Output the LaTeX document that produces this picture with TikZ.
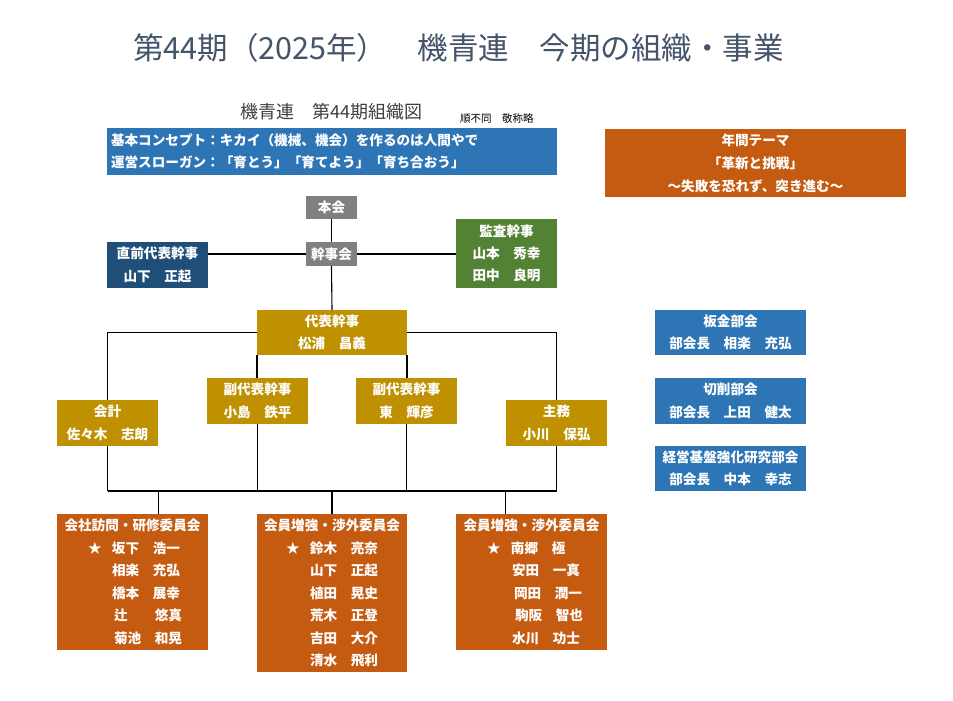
\documentclass[tikz,border=0pt]{standalone}
\usepackage{fontspec}
\newfontfamily\jp{Noto Sans CJK JP}
\usetikzlibrary{calc}
\definecolor{cblue}{HTML}{2E75B6}
\definecolor{corange}{HTML}{C55A11}
\definecolor{cgold}{HTML}{BF9000}
\definecolor{cgreen}{HTML}{548235}
\definecolor{cnavy}{HTML}{1F4E79}
\definecolor{cgrey}{HTML}{808080}
\definecolor{ctitle}{HTML}{44546A}
\definecolor{csub}{HTML}{404040}
\newcommand\mline[4]{\makebox[#1][l]{\hspace*{#2}\makebox[24pt][l]{#3}#4}}
\begin{document}
\begin{tikzpicture}[x=1pt,y=-1pt,
  box/.style={anchor=north west, inner sep=0pt, outer sep=0pt, text=white,
    font=\jp\bfseries\fontsize{13.6}{22.5}\selectfont, align=center},
  wire/.style={line width=1.1pt, black}]
\useasboundingbox[fill=white] (0,0) rectangle (953,701);

% titles
\node[anchor=west, inner sep=0pt, text=ctitle, font=\jp\fontsize{30.5}{30.5}\selectfont] (title) at (133,48) {第44期（2025年）　機青連　今期の組織・事業};
\node[anchor=west, inner sep=0pt, text=csub, font=\jp\fontsize{18}{18}\selectfont] (sub) at (240,112) {機青連　第44期組織図};
\node[anchor=west, inner sep=0pt, text=black, font=\jp\fontsize{10.5}{10.5}\selectfont] (note) at (460,118) {順不同　敬称略};

% top boxes
\node[box, fill=cblue, minimum width=450pt, minimum height=47pt, text width=442pt, inner xsep=4pt, align=left] (concept) at (107,128)
  {基本コンセプト：キカイ（機械、機会）を作るのは人間やで\\運営スローガン：「育とう」「育てよう」「育ち合おう」};
\node[box, fill=corange, minimum width=301pt, minimum height=68pt, font=\jp\bfseries\fontsize{13.6}{23}\selectfont] (theme) at (605,129)
  {年間テーマ\\「革新と挑戦」\\～失敗を恐れず、突き進む～};

% hierarchy
\node[box, fill=cgrey, minimum width=51pt, minimum height=23pt] (honkai) at (306,196) {本会};
\node[box, fill=cgrey, minimum width=51pt, minimum height=24pt] (kanjikai) at (306,242) {幹事会};
\node[box, fill=cnavy, minimum width=101pt, minimum height=46pt] (zenkai) at (107,242) {直前代表幹事\\山下　正起};
\node[box, fill=cgreen, minimum width=101pt, minimum height=69pt, font=\jp\bfseries\fontsize{13.6}{22}\selectfont] (kansa) at (456,219) {監査幹事\\山本　秀幸\\田中　良明};
\node[box, fill=cgold, minimum width=150pt, minimum height=45pt] (daihyo) at (257,310) {代表幹事\\松浦　昌義};
\node[box, fill=cgold, minimum width=101pt, minimum height=46pt] (fuku1) at (207,378) {副代表幹事\\小島　鉄平};
\node[box, fill=cgold, minimum width=101pt, minimum height=46pt] (fuku2) at (356,378) {副代表幹事\\東　輝彦};
\node[box, fill=cgold, minimum width=101pt, minimum height=46pt] (kaikei) at (57,400) {会計\\佐々木　志朗};
\node[box, fill=cgold, minimum width=101pt, minimum height=46pt] (shumu) at (506,400) {主務\\小川　保弘};

% committees
\node[box, fill=corange, minimum width=151pt, minimum height=136pt, text width=151pt] (com1) at (57,514)
  {会社訪問・研修委員会\\
   \mline{151pt}{31pt}{★}{坂下　浩一}\\
   \mline{151pt}{31pt}{}{相楽　充弘}\\
   \mline{151pt}{31pt}{}{橋本　展幸}\\
   \mline{151pt}{33pt}{}{辻　　悠真}\\
   \mline{151pt}{33pt}{}{菊池　和晃}};
\node[box, fill=corange, minimum width=150pt, minimum height=158pt, text width=150pt] (com2) at (257,514)
  {会員増強・渉外委員会\\
   \mline{150pt}{29pt}{★}{鈴木　亮奈}\\
   \mline{150pt}{29pt}{}{山下　正起}\\
   \mline{150pt}{29pt}{}{植田　晃史}\\
   \mline{150pt}{29pt}{}{荒木　正登}\\
   \mline{150pt}{29pt}{}{吉田　大介}\\
   \mline{150pt}{29pt}{}{清水　飛利}};
\node[box, fill=corange, minimum width=151pt, minimum height=136pt, text width=151pt] (com3) at (456,514)
  {会員増強・渉外委員会\\
   \mline{151pt}{31pt}{★}{南郷　極}\\
   \mline{151pt}{32pt}{}{安田　一真}\\
   \mline{151pt}{34pt}{}{岡田　潤一}\\
   \mline{151pt}{35pt}{}{駒阪　智也}\\
   \mline{151pt}{32pt}{}{水川　功士}};

% sections
\node[box, fill=cblue, minimum width=151pt, minimum height=45pt] (bankin) at (655,310) {板金部会\\部会長　相楽　充弘};
\node[box, fill=cblue, minimum width=151pt, minimum height=46pt] (sessaku) at (655,378) {切削部会\\部会長　上田　健太};
\node[box, fill=cblue, minimum width=151pt, minimum height=45pt] (keiei) at (655,446) {経営基盤強化研究部会\\部会長　中本　幸志};

% connectors
\coordinate (bus) at (0,491);
\draw[wire] (honkai) -- (kanjikai);
\draw[wire] (kanjikai.west) -- (kanjikai.west -| zenkai.east);
\draw[wire] (kanjikai.east) -- (kanjikai.east -| kansa.west);
\draw[wire] (kanjikai.south) -- (daihyo.north);
\draw[wire] (daihyo.west) -| (kaikei.north);
\draw[wire] (daihyo.east) -| (shumu.north);
\draw[wire] (daihyo.south west) -- (daihyo.south west |- fuku1.north);
\draw[wire] (daihyo.south east) -- (daihyo.south east |- fuku2.north);
\draw[wire] (kaikei.south) -- (kaikei.south |- bus);
\draw[wire] (fuku1.south) -- (fuku1.south |- bus);
\draw[wire] (fuku2.south) -- (fuku2.south |- bus);
\draw[wire] (shumu.south) -- (shumu.south |- bus);
\draw[wire] (kaikei.south |- bus) -- (shumu.south |- bus);
\coordinate (d1) at ($(com1.north west)!0.67!(com1.north east)$);
\coordinate (d3) at ($(com3.north west)!0.33!(com3.north east)$);
\draw[wire] (d1) -- (d1 |- bus);
\draw[wire] (com2.north) -- (com2.north |- bus);
\draw[wire] (d3) -- (d3 |- bus);
\end{tikzpicture}
\end{document}
